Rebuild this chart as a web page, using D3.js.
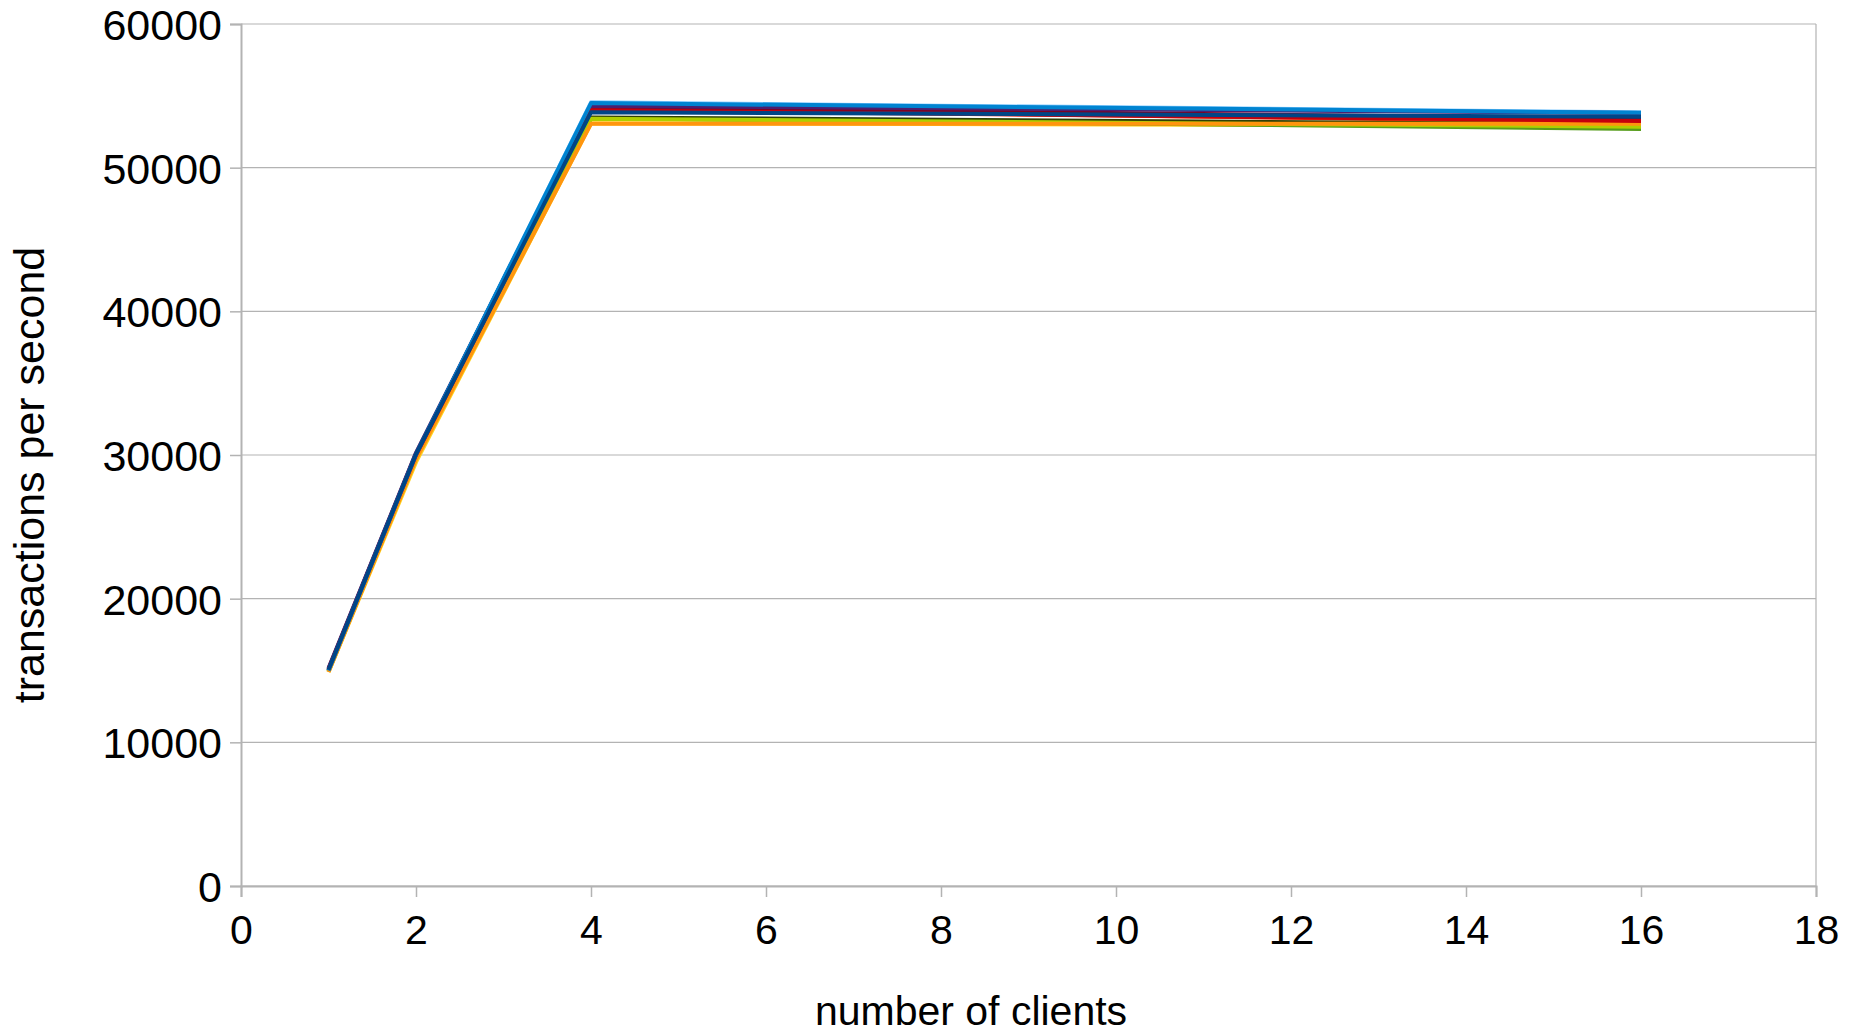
<!DOCTYPE html>
<html>
<head>
<meta charset="utf-8">
<script src="https://cdn.jsdelivr.net/npm/d3@7"></script>
<style>
  html, body { margin: 0; padding: 0; background: #fff; }
  svg text { font-family: "Liberation Sans", Arial, sans-serif; fill: #000; }
</style>
</head>
<body>
<svg id="chart" width="1862" height="1034"></svg>
<script>
// Benchmark throughput: number of clients vs. transactions per second
const clients = [1, 2, 4, 16];

const run01 = [15000, 30000, 54100, 53150];
const run02 = [14900, 29500, 53100, 52900];
const run03 = [14950, 29800, 53450, 52700];
const run04 = [15100, 30100, 54200, 53400];
const run05 = [15000, 30000, 54550, 53850];
const run06 = [15000, 29950, 53500, 53000];
const run07 = [14950, 29900, 53400, 52850];
const run08 = [15150, 30150, 54300, 53800];
const run09 = [14900, 29700, 53050, 53050];
const run10 = [15050, 30000, 54000, 53250];
const run11 = [15000, 30050, 54500, 53820];
const run12 = [15050, 30050, 53850, 53550];

const runNames = ["run 1", "run 2", "run 3", "run 4", "run 5", "run 6",
                  "run 7", "run 8", "run 9", "run 10", "run 11", "run 12"];
const runValues = [run01, run02, run03, run04, run05, run06,
                   run07, run08, run09, run10, run11, run12];
const runColors = ["#ff420e", "#ffd320", "#579d1c", "#7e0021", "#83caff", "#314004",
                   "#aecf00", "#4b1f6f", "#ff950e", "#c5000b", "#0084d1", "#004586"];

const xTicks = [0, 2, 4, 6, 8, 10, 12, 14, 16, 18];
const yTicks = [0, 10000, 20000, 30000, 40000, 50000, 60000];

const xTitle = "number of clients";
const yTitle = "transactions per second";

const svg = d3.select("#chart");
const plotLeft = 241, plotRight = 1816, plotTop = 24, plotBottom = 886;

const x = d3.scaleLinear().domain([0, 18]).range([plotLeft, plotRight]);
const y = d3.scaleLinear().domain([0, 60000]).range([plotBottom, plotTop]);

const gridColor = "#b3b3b3";

// horizontal gridlines
svg.append("g")
  .selectAll("line")
  .data(yTicks)
  .join("line")
  .attr("x1", plotLeft).attr("x2", plotRight)
  .attr("y1", d => y(d)).attr("y2", d => y(d))
  .attr("stroke", gridColor).attr("stroke-width", 1.2);

// right edge of the plot wall
svg.append("line")
  .attr("x1", plotRight).attr("x2", plotRight)
  .attr("y1", plotTop).attr("y2", plotBottom)
  .attr("stroke", gridColor).attr("stroke-width", 1.2);

// y axis
const yAxis = svg.append("g")
  .attr("transform", `translate(${plotLeft},0)`)
  .call(d3.axisLeft(y).tickValues(yTicks).tickFormat(d3.format("d"))
    .tickSize(11).tickPadding(8));
yAxis.select(".domain").attr("stroke", gridColor).attr("stroke-width", 2);
yAxis.selectAll(".tick line").attr("stroke", gridColor).attr("stroke-width", 1.5);
yAxis.selectAll(".tick text")
  .attr("font-size", 43)
  .attr("font-family", "Liberation Sans, Arial, sans-serif")
  .attr("fill", "#000")
  .attr("dy", "0.36em");

// x axis
const xAxis = svg.append("g")
  .attr("transform", `translate(0,${plotBottom})`)
  .call(d3.axisBottom(x).tickValues(xTicks).tickFormat(d3.format("d"))
    .tickSize(11).tickPadding(18));
xAxis.select(".domain").attr("stroke", gridColor).attr("stroke-width", 2);
xAxis.selectAll(".tick line").attr("stroke", gridColor).attr("stroke-width", 1.5);
xAxis.selectAll(".tick text")
  .attr("font-size", 41)
  .attr("font-family", "Liberation Sans, Arial, sans-serif")
  .attr("fill", "#000");

// series lines
const line = d3.line()
  .x((d, i) => x(clients[i]))
  .y(d => y(d));

svg.append("g")
  .selectAll("path")
  .data(runValues.map((v, i) => ({ name: runNames[i], values: v, color: runColors[i] })))
  .join("path")
  .attr("d", d => line(d.values))
  .attr("fill", "none")
  .attr("stroke", d => d.color)
  .attr("stroke-width", 4)
  .attr("stroke-linejoin", "round");

// axis titles
svg.append("text")
  .attr("x", 971).attr("y", 1025)
  .attr("text-anchor", "middle")
  .attr("font-size", 41)
  .text(xTitle);

svg.append("text")
  .attr("transform", "translate(44,475) rotate(-90)")
  .attr("text-anchor", "middle")
  .attr("font-size", 43)
  .text(yTitle);
</script>
</body>
</html>
